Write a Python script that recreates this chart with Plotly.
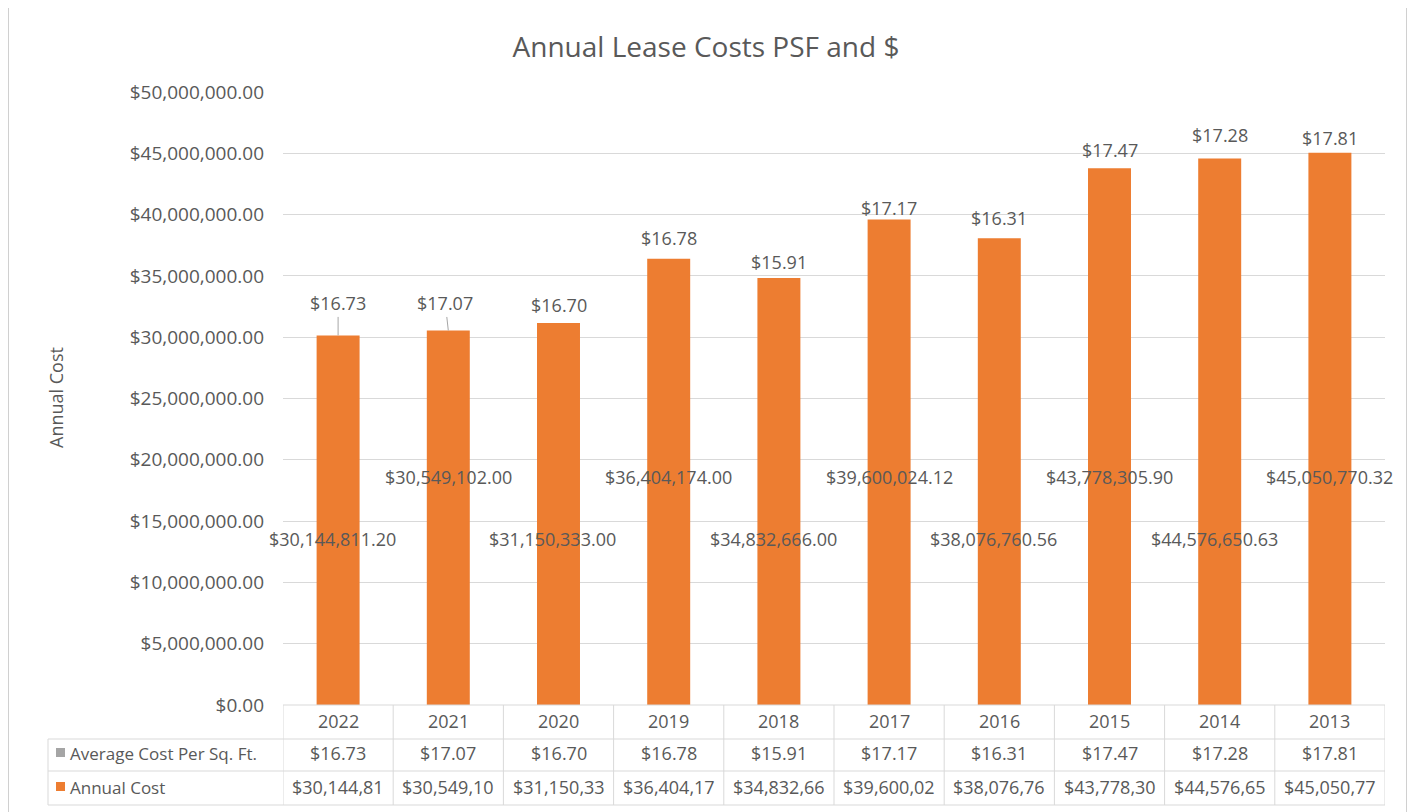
import plotly.graph_objects as go

# ---------------- data ----------------
years = ["2022", "2021", "2020", "2019", "2018", "2017", "2016", "2015", "2014", "2013"]
annual_cost = [30144811.20, 30549102.00, 31150333.00, 36404174.00, 34832666.00,
               39600024.12, 38076760.56, 43778305.90, 44576650.63, 45050770.32]
avg_cost_psf = [16.73, 17.07, 16.70, 16.78, 15.91, 17.17, 16.31, 17.47, 17.28, 17.81]
y_ticks = [0, 5e6, 10e6, 15e6, 20e6, 25e6, 30e6, 35e6, 40e6, 45e6, 50e6]

# ---------------- style ----------------
FONT = "Open Sans"
TXT = "#595959"
ORANGE = "#ED7D31"
GRAY = "#A5A5A5"
GRID = "#D9D9D9"
OFF = 8                      # page body margin
W, H = 1415 - OFF, 812 - OFF
PL, PR, PT, PB = 283, 1385, 92, 705   # plot area in page pixels
L, R, T, B = PL - OFF, W - (PR - OFF), PT - OFF, H - (PB - OFF)
PW, PH = PR - PL, PB - PT

def px_x(p):  # page pixel -> paper x
    return (p - PL) / PW

def px_y(p):  # page pixel -> paper y
    return (PB - p) / PH

# pixel offsets of the PSF labels above bar tops (Excel manual placement)
psf_offsets = [30, 25, 18, 21, 16, 12, 20, 18, 23, 15]
leader = [True, True, False, False, False, False, False, False, False, False]

fig = go.Figure()
fig.add_trace(go.Bar(
    x=list(range(len(years))), y=annual_cost, marker=dict(color=ORANGE, line=dict(width=0)),
    width=0.39, name="Annual Cost", showlegend=False,
    customdata=years, hovertemplate="%{customdata}: %{y:$,.2f}<extra></extra>",
))

f18 = dict(family=FONT, size=18, color=TXT)
annotations = []
for i, (yr, v, p) in enumerate(zip(years, annual_cost, avg_cost_psf)):
    # PSF labels above bars
    if leader[i]:
        annotations.append(dict(
            x=i, y=v, xref="x", yref="y", text=f"${p:.2f}", showarrow=True,
            arrowhead=0, arrowwidth=1, arrowcolor="#A6A6A6", ax=-3 if i == 1 else 0,
            ay=-psf_offsets[i] - 2, standoff=0, font=f18))
    else:
        annotations.append(dict(
            x=i, y=v, xref="x", yref="y", text=f"${p:.2f}", showarrow=False,
            yshift=psf_offsets[i], font=f18))
    # Annual cost labels inside bars (alternating heights)
    annotations.append(dict(
        x=i - 0.05 if i % 2 == 0 else i, y=13.5e6 if i % 2 == 0 else 18.6e6,
        xref="x", yref="y", text=f"${v:,.2f}", showarrow=False, font=f18))
    # table cells
    for yy, txt in ((721, yr), (753, f"${p:.2f}"), (787, f"${v:,.2f}"[:10])):
        annotations.append(dict(x=i, y=px_y(yy), xref="x", yref="paper", text=txt,
                                xanchor="center", yanchor="middle",
                                showarrow=False, font=f18))

# table row labels
for yy, txt in ((753, "Average Cost Per Sq. Ft."), (787, "Annual Cost")):
    annotations.append(dict(x=px_x(68), y=px_y(yy), xref="paper", yref="paper",
                            text=txt, xanchor="left", yanchor="middle", showarrow=False,
                            font=dict(family=FONT, size=17, color=TXT)))
# y axis title
annotations.append(dict(x=px_x(56), y=px_y(398), xref="paper", yref="paper",
                        text="Annual Cost", textangle=-90, showarrow=False,
                        xanchor="center", yanchor="middle", font=f18))

shapes = []
line = dict(color=GRID, width=1)
# outer chart border
shapes.append(dict(type="rect", xref="paper", yref="paper", x0=px_x(8.5), x1=px_x(1406.5),
                   y0=px_y(830), y1=px_y(6.5), line=dict(color="#D0D0D0", width=1)))
# table horizontal lines
shapes.append(dict(type="line", xref="paper", yref="paper", x0=0, x1=1,
                   y0=0, y1=0, line=line))
for yy in (739, 771, 805):
    shapes.append(dict(type="line", xref="paper", yref="paper", x0=px_x(48), x1=1,
                       y0=px_y(yy), y1=px_y(yy), line=line))
# table vertical lines
for k in range(len(years) + 1):
    shapes.append(dict(type="line", xref="x", yref="paper", x0=k - 0.5, x1=k - 0.5,
                       y0=px_y(805), y1=0, line=line))
shapes.append(dict(type="line", xref="paper", yref="paper", x0=px_x(48), x1=px_x(48),
                   y0=px_y(805), y1=px_y(739), line=line))
# legend keys
shapes.append(dict(type="rect", xref="paper", yref="paper", x0=px_x(56), x1=px_x(65),
                   y0=px_y(757), y1=px_y(748), fillcolor=GRAY, line=dict(width=0)))
shapes.append(dict(type="rect", xref="paper", yref="paper", x0=px_x(56), x1=px_x(65),
                   y0=px_y(791), y1=px_y(782), fillcolor=ORANGE, line=dict(width=0)))

fig.update_layout(
    width=W, height=H,
    margin=dict(l=L, r=R, t=T, b=B),
    paper_bgcolor="white", plot_bgcolor="white",
    title=dict(text="Annual Lease Costs PSF and $", x=(706 - OFF) / W, xref="container",
               y=1 - (47 - OFF) / H, yref="container", yanchor="middle", xanchor="center",
               font=dict(family=FONT, size=28, color=TXT)),
    xaxis=dict(range=[-0.5, len(years) - 0.5], showticklabels=False, showgrid=False,
               zeroline=False, showline=False, fixedrange=True),
    yaxis=dict(range=[0, 50e6], tickvals=y_ticks, tickformat="$,.2f",
               showgrid=True, gridcolor=GRID, gridwidth=1, zeroline=False, showline=False,
               ticks="", ticklabelstandoff=18,
               tickfont=dict(family=FONT, size=19, color=TXT), fixedrange=True),
    annotations=annotations, shapes=shapes,
    showlegend=False,
)

fig.write_html("out.html")
